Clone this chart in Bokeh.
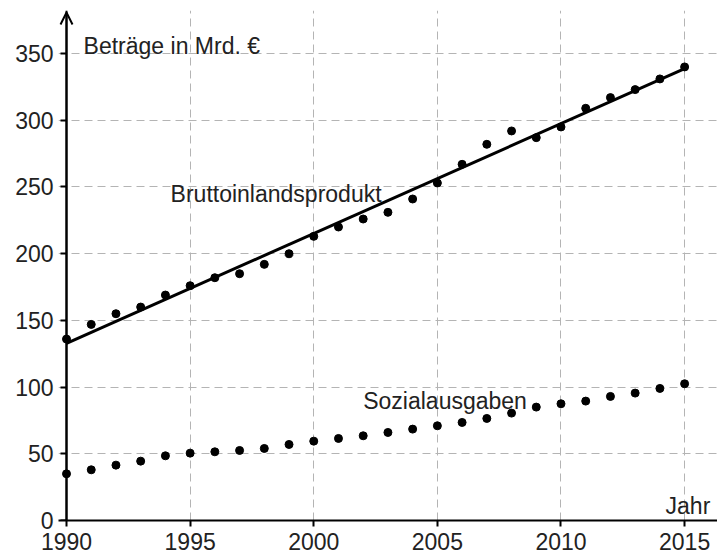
import numpy as np
from bokeh.plotting import figure
from bokeh.models import Range1d, FixedTicker, Label, Arrow, OpenHead, LinearAxis
from bokeh.embed import file_html
from bokeh.resources import INLINE

# ---- data ----
years = list(range(1990, 2016))
bip = [136, 147, 155, 160, 169, 176, 182, 185, 192, 200, 213, 220, 226, 231, 241,
       253, 267, 282, 292, 287, 295, 309, 317, 323, 331, 340]
sozial = [35, 38, 41.5, 44.5, 48.5, 50.5, 51.5, 52.5, 54, 57, 59.5, 61.5, 63.5, 66, 68.5,
          71, 73.5, 76.5, 80.5, 85, 87.5, 89.5, 93, 95.5, 99, 102.5]
x_ticks = [1990, 1995, 2000, 2005, 2010, 2015]
y_ticks = [0, 50, 100, 150, 200, 250, 300, 350]

label_y_axis = "Beträge in Mrd. €"
label_x_axis = "Jahr"
label_bip = "Bruttoinlandsprodukt"
label_sozial = "Sozialausgaben"

# linear regression of BIP
slope, intercept = np.polyfit(years, bip, 1)
fit_x = [years[0], years[-1]]
fit_y = [slope * x + intercept for x in fit_x]

FONT = "Liberation Sans"
TXT = "#222222"

x_axis_at = 1990
x0, x1 = 1989.676, 2016.33
y0, y1 = 0, 382.3

p = figure(width=717, height=560, output_backend="svg", toolbar_location=None,
           x_range=Range1d(x0, x1), y_range=Range1d(y0, y1),
           min_border_left=58, min_border_right=0, min_border_top=10, min_border_bottom=40)
p.outline_line_color = None
p.background_fill_color = "white"
p.border_fill_color = "white"

for ax, ticks in ((p.xaxis, x_ticks), (p.yaxis, y_ticks)):
    ax.ticker = FixedTicker(ticks=ticks)
    ax.axis_line_width = 2
    ax.axis_line_color = "black"
    ax.major_tick_line_width = 2
    ax.major_tick_line_color = "black"
    ax.major_tick_out = 6
    ax.major_tick_in = 0
    ax.minor_tick_line_color = None
    ax.major_label_text_font = FONT
    ax.major_label_text_font_size = "23px"
    ax.major_label_text_color = TXT
p.xaxis.major_label_standoff = 6
# y axis line + ticks drawn at 1990 (inside frame), labels from a separate axis
p.yaxis.fixed_location = x_axis_at
p.yaxis.major_label_text_alpha = 0

lab_axis = LinearAxis(ticker=FixedTicker(ticks=y_ticks), axis_line_color=None,
                      major_tick_line_color=None, minor_tick_line_color=None,
                      major_tick_out=0, major_tick_in=0, major_label_standoff=5,
                      major_label_text_font=FONT, major_label_text_font_size="23px",
                      major_label_text_color=TXT)
p.add_layout(lab_axis, "left")

p.xgrid.ticker = FixedTicker(ticks=x_ticks)
p.ygrid.ticker = FixedTicker(ticks=y_ticks)
for g in (p.xgrid, p.ygrid):
    g.grid_line_color = "#b4b4b4"
    g.grid_line_dash = "8 5"
    g.grid_line_width = 1

# y-axis arrow head
p.add_layout(Arrow(end=OpenHead(size=12, line_width=2, line_color="black"),
                   x_start=x_axis_at, y_start=y0, x_end=x_axis_at, y_end=380.8,
                   line_width=2, line_color="black"))

# regression line and points
p.line(fit_x, fit_y, line_width=3, line_color="black")
p.scatter(years, bip, size=8, color="black")
p.scatter(years, sozial, size=8, color="black")

def lab(x, y, t, align="left"):
    p.add_layout(Label(x=x, y=y, text=t, text_font=FONT, text_font_size="23px",
                       text_color=TXT, text_align=align, text_baseline="alphabetic"))

lab(1990.69, 356, label_y_axis)
lab(1994.21, 245, label_bip)
lab(2002.0, 89.5, label_sozial)
lab(2014.23, 10.5, label_x_axis)

open("out.html", "w").write(file_html(p, INLINE))
